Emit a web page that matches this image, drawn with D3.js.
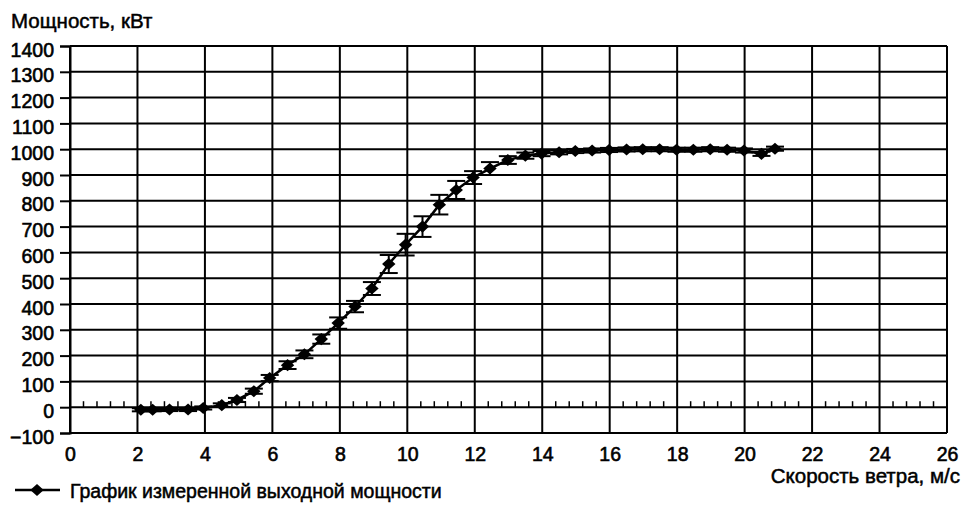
<!DOCTYPE html>
<html><head><meta charset="utf-8">
<script src="https://cdn.jsdelivr.net/npm/d3@7"></script>
<style>
html,body{margin:0;padding:0;background:#fff;}
text{font-family:"Liberation Sans",Arial,sans-serif;fill:#000;}
</style></head>
<body>
<svg id="chart" width="965" height="519"></svg>
<script>
const windSpeed = [2.1, 2.45, 2.95, 3.5, 3.95, 4.5, 4.95, 5.45, 5.92, 6.45, 6.95, 7.45, 7.95, 8.45, 8.95, 9.45, 9.95, 10.45, 10.95, 11.45, 11.95, 12.45, 12.98, 13.5, 13.98, 14.5, 14.98, 15.48, 15.98, 16.5, 16.98, 17.48, 17.98, 18.48, 18.98, 19.48, 19.98, 20.5, 20.9];
const power = [-10, -10, -9, -9, -3, 8, 28, 62, 113, 163, 205, 264, 326, 390, 460, 555, 630, 700, 785, 842, 890, 925, 958, 975, 983, 988, 993, 995, 997, 999, 1000, 1000, 998, 998, 1000, 998, 995, 982, 1002];
const uncertainty = [6, 6, 6, 6, 6, 7, 8, 10, 12, 15, 15, 18, 22, 22, 25, 35, 42, 40, 38, 35, 25, 25, 15, 12, 10, 8, 8, 8, 8, 8, 8, 8, 8, 8, 8, 8, 8, 8, 8];
const xTicks = [0, 2, 4, 6, 8, 10, 12, 14, 16, 18, 20, 22, 24, 26];
const yTicks = [-100, 0, 100, 200, 300, 400, 500, 600, 700, 800, 900, 1000, 1100, 1200, 1300, 1400];
const minorStep = 0.4;
const yTitle = "Мощность, кВт";
const xTitle = "Скорость ветра, м/с";
const seriesName = "График измеренной выходной мощности";

const svg = d3.select("#chart");
const L = 70, R = 947, T = 46, B = 433;
const x = d3.scaleLinear().domain([0, 26]).range([L, R]);
const y = d3.scaleLinear().domain([-100, 1400]).range([B, T]);

// grid
svg.append("g").selectAll("line").data(yTicks).join("line")
  .attr("x1", L).attr("x2", R).attr("y1", d => y(d)).attr("y2", d => y(d))
  .attr("stroke", "#000").attr("stroke-width", 2);
svg.append("g").selectAll("line").data(xTicks).join("line")
  .attr("x1", d => x(d)).attr("x2", d => x(d)).attr("y1", T).attr("y2", B)
  .attr("stroke", "#000").attr("stroke-width", 2);

// minor ticks on zero line
const minor = d3.range(0, 26 + 1e-9, minorStep).filter(v => Math.abs(v / 2 - Math.round(v / 2)) > 1e-6);
svg.append("g").selectAll("line").data(minor).join("line")
  .attr("x1", d => x(d)).attr("x2", d => x(d)).attr("y1", y(0)).attr("y2", y(0) - 6)
  .attr("stroke", "#000").attr("stroke-width", 1.5);

// y axis
const yAxis = svg.append("g").attr("transform", `translate(${L},0)`)
  .call(d3.axisLeft(y).tickValues(yTicks).tickSize(10).tickPadding(6).tickFormat(d3.format("d")));
yAxis.select(".domain").attr("stroke", "#000").attr("stroke-width", 2);
yAxis.selectAll(".tick line").attr("stroke", "#000").attr("stroke-width", 2);
yAxis.selectAll("text").attr("font-size", 19.5).attr("dy", "0.52em").attr("stroke", "#000").attr("stroke-width", 0.6);

// x axis labels
const xAxis = svg.append("g").attr("transform", `translate(0,${B})`)
  .call(d3.axisBottom(x).tickValues(xTicks).tickSize(0).tickPadding(14).tickFormat(d3.format("d")));
xAxis.select(".domain").remove();
xAxis.selectAll("text").attr("font-size", 19.5).attr("stroke", "#000").attr("stroke-width", 0.6);

// titles
svg.append("text").attr("x", 11).attr("y", 28).attr("font-size", 20.5).attr("stroke", "#000").attr("stroke-width", 0.5).text(yTitle);
svg.append("text").attr("x", 960).attr("y", 483).attr("text-anchor", "end").attr("font-size", 20.5).attr("stroke", "#000").attr("stroke-width", 0.5).text(xTitle);

// data
const data = windSpeed.map((w, i) => ({w, p: power[i], u: uncertainty[i]}));
const line = d3.line().x(d => x(d.w)).y(d => y(d.p));
svg.append("path").datum(data).attr("d", line).attr("fill", "none").attr("stroke", "#000").attr("stroke-width", 2.5);

const eb = svg.append("g").attr("stroke", "#000").attr("stroke-width", 2);
data.forEach(d => {
  eb.append("line").attr("x1", x(d.w)).attr("x2", x(d.w)).attr("y1", y(d.p - d.u)).attr("y2", y(d.p + d.u));
  eb.append("line").attr("x1", x(d.w) - 9).attr("x2", x(d.w) + 9).attr("y1", y(d.p - d.u)).attr("y2", y(d.p - d.u));
  eb.append("line").attr("x1", x(d.w) - 9).attr("x2", x(d.w) + 9).attr("y1", y(d.p + d.u)).attr("y2", y(d.p + d.u));
});

const diamond = d3.symbol().type(d3.symbolDiamond2).size(115);
svg.append("g").selectAll("path").data(data).join("path")
  .attr("transform", d => `translate(${x(d.w)},${y(d.p)}) scale(1,0.9)`)
  .attr("d", diamond).attr("fill", "#000");

// legend
const lg = svg.append("g");
lg.append("line").attr("x1", 15).attr("x2", 60).attr("y1", 490).attr("y2", 490).attr("stroke", "#000").attr("stroke-width", 2.5);
lg.append("path").attr("transform", "translate(37,490) scale(1,0.9)").attr("d", diamond).attr("fill", "#000");
lg.append("text").attr("x", 70).attr("y", 498).attr("font-size", 19.5).attr("stroke", "#000").attr("stroke-width", 0.5).text(seriesName);
</script>
</body></html>
